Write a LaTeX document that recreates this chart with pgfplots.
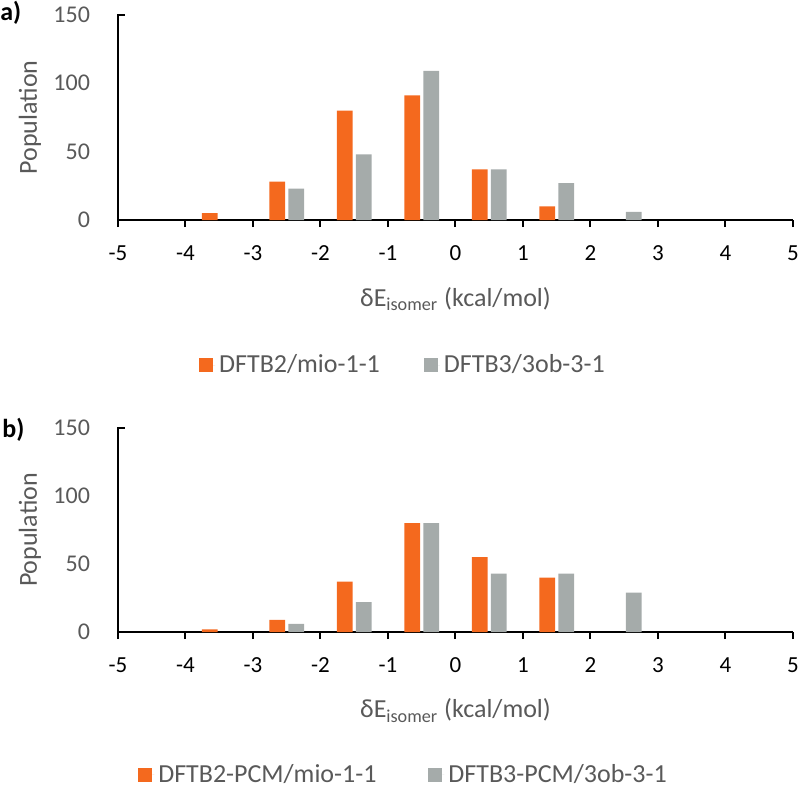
\documentclass[border=0pt]{standalone}
\usepackage{fontspec}
\setmainfont{Carlito}
\usepackage{pgfplots}
\pgfplotsset{compat=1.18}
\definecolor{barorange}{HTML}{F4691E}
\definecolor{bargray}{HTML}{A5ABAA}
\definecolor{txtgray}{HTML}{595959}
\pgfplotsset{
  hist/.style={
    scale only axis, width=337.5pt,
    xmin=-5, xmax=5, ymin=0, ymax=150,
    axis lines=left, axis line style={-, line width=1pt, black},
    xtick={-5,-4,-3,-2,-1,0,1,2,3,4,5},
    xticklabels={-5,-4,-3,-2,-1,0,1,2,3,4,5},
    ytick={0,50,100,150}, yticklabels={0,50,100,150},
    tick align=inside, major tick length=3.5pt,
    xtick style={line width=1pt, black},
    ytick style={draw=none},
    xticklabel style={font=\fontsize{11.5}{13}\selectfont, text=black, yshift=-6pt},
    yticklabel style={font=\fontsize{12}{14}\selectfont, text=txtgray, xshift=-10.5pt},
    ybar, bar width=7.8pt,
    clip=false,
    every axis y label/.style={at={(axis description cs:-0.1304,0.5)}, rotate=90, anchor=center, font=\fontsize{13}{15}\selectfont, text=txtgray},
    every axis x label/.style={at={(axis description cs:0.5,-0.385)}, anchor=center, font=\fontsize{13}{15}\selectfont, text=txtgray},
    ylabel={Population},
    xlabel={δE\textsubscript{isomer} (kcal/mol)},
    legend image code/.code={\fill[##1] (0pt,-3.5pt) rectangle (7pt,3.5pt); \path (7pt,0) -- (8pt,0);},
    legend columns=2,
    legend style={draw=none, anchor=center, text=txtgray, font=\fontsize{13}{15}\selectfont},
  }
}
\begin{document}
\begin{tikzpicture}
\path[use as bounding box] (0,0) rectangle (400pt,-394pt);
% panel a
\begin{axis}[hist, name=pa, at={(59pt,-110pt)}, anchor=south west, height=102.65pt,
  legend style={at={(axis description cs:0.4237,-0.707)},
    /tikz/every even column/.append style={column sep=20pt}}]
\addplot[fill=barorange, draw=none, bar shift=-4.75pt] coordinates {
 (-3.5,5) (-2.5,28) (-1.5,80) (-0.5,91) (0.5,37) (1.5,10)};
\addlegendentry{DFTB2/mio-1-1}
\addplot[fill=bargray, draw=none, bar shift=4.75pt] coordinates {
 (-2.5,23) (-1.5,48) (-0.5,109) (0.5,37) (1.5,27) (2.5,6)};
\addlegendentry{DFTB3/3ob-3-1}
\end{axis}
\draw[line width=1pt] (pa.south west) -- (pa.north west) -- ++(3.5pt,0);
\node[anchor=west, inner sep=0pt, font=\fontsize{13}{15}\selectfont\bfseries] at (0pt,-6.5pt) {a)};
% panel b
\begin{axis}[hist, name=pb, at={(59pt,-316pt)}, anchor=south west, height=102pt,
  legend style={at={(axis description cs:0.4245,-0.70)},
    /tikz/every even column/.append style={column sep=24pt}}]
\addplot[fill=barorange, draw=none, bar shift=-4.75pt] coordinates {
 (-3.5,2) (-2.5,9) (-1.5,37) (-0.5,80) (0.5,55) (1.5,40)};
\addlegendentry{DFTB2-PCM/mio-1-1}
\addplot[fill=bargray, draw=none, bar shift=4.75pt] coordinates {
 (-2.5,6) (-1.5,22) (-0.5,80) (0.5,43) (1.5,43) (2.5,29)};
\addlegendentry{DFTB3-PCM/3ob-3-1}
\end{axis}
\draw[line width=1pt] (pb.south west) -- (pb.north west) -- ++(3.5pt,0);
\node[anchor=west, inner sep=0pt, font=\fontsize{13}{15}\selectfont\bfseries] at (1pt,-215pt) {b)};
\end{tikzpicture}
\end{document}
